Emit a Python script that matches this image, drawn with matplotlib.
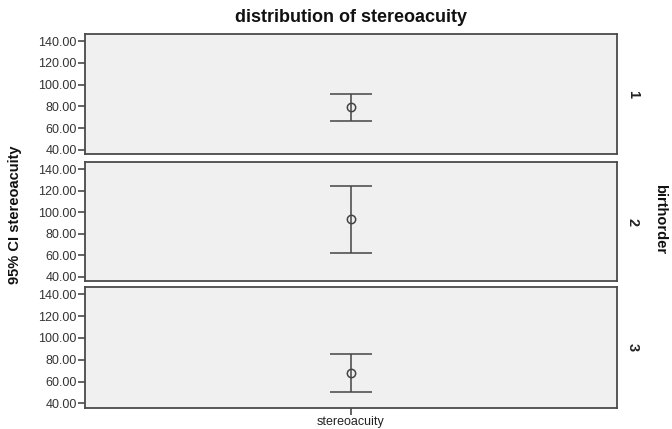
import matplotlib
matplotlib.use("Agg")
import matplotlib.pyplot as plt

plt.rcParams["font.family"] = ["Liberation Sans", "DejaVu Sans"]

# data
birthorder = ["1", "2", "3"]
means = [79.3, 93.3, 68.1]
ci_low = [66.4, 62.0, 50.6]
ci_high = [91.1, 124.2, 85.0]
yticks = [40, 60, 80, 100, 120, 140]
xlabel = "stereoacuity"

fig = plt.figure(figsize=(6.72, 4.29), dpi=100)

left, right = 85 / 672, 617 / 672
panels = [(34, 154.3), (162.3, 281), (287.3, 407.7)]  # top / bottom in px
edge = "#4a4a4a"

for i, (top, bot) in enumerate(panels):
    ax = fig.add_axes([left, 1 - bot / 429, right - left, (bot - top) / 429])
    ax.set_facecolor("#f0f0f0")
    for s in ax.spines.values():
        s.set_color(edge)
        s.set_linewidth(1.3)

    m = means[i]
    ax.errorbar([0], [m], yerr=[[m - ci_low[i]], [ci_high[i] - m]],
                fmt="o", mfc="none", mec="#444444", ms=6, mew=1.1,
                ecolor="#444444", elinewidth=1.1, capsize=15, capthick=1.1)

    ax.set_xlim(-1, 1)
    ax.set_ylim(36, 146.5)
    ax.set_yticks(yticks)
    ax.set_yticklabels([f"{v:.2f}" for v in yticks], fontsize=9, color="#333333")
    ax.tick_params(axis="y", direction="out", length=5, width=1.2, color=edge, pad=1)

    if i == len(panels) - 1:
        ax.set_xticks([0])
        ax.set_xticklabels([xlabel], fontsize=9, color="#222222")
        ax.tick_params(axis="x", direction="out", length=5, width=1.2, color=edge, pad=1)
    else:
        ax.set_xticks([])

    ax.text(1.03, 0.5, birthorder[i], transform=ax.transAxes, rotation=-90,
            ha="center", va="center", fontsize=10.5, fontweight="bold", color="#222222")

fig.text(351 / 672, 1 - 18 / 429, "distribution of stereoacuity", ha="center",
         va="center", fontsize=13, fontweight="bold", color="#111111")
fig.text(15 / 672, 0.5, "95% CI stereoacuity", rotation=90, ha="center",
         va="center", fontsize=10.5, fontweight="bold", color="#111111")
fig.text(660 / 672, 1 - 219 / 429, "birthorder", rotation=-90, ha="center",
         va="center", fontsize=10.5, fontweight="bold", color="#111111")

fig.savefig("out.png", dpi=100, facecolor="white")
